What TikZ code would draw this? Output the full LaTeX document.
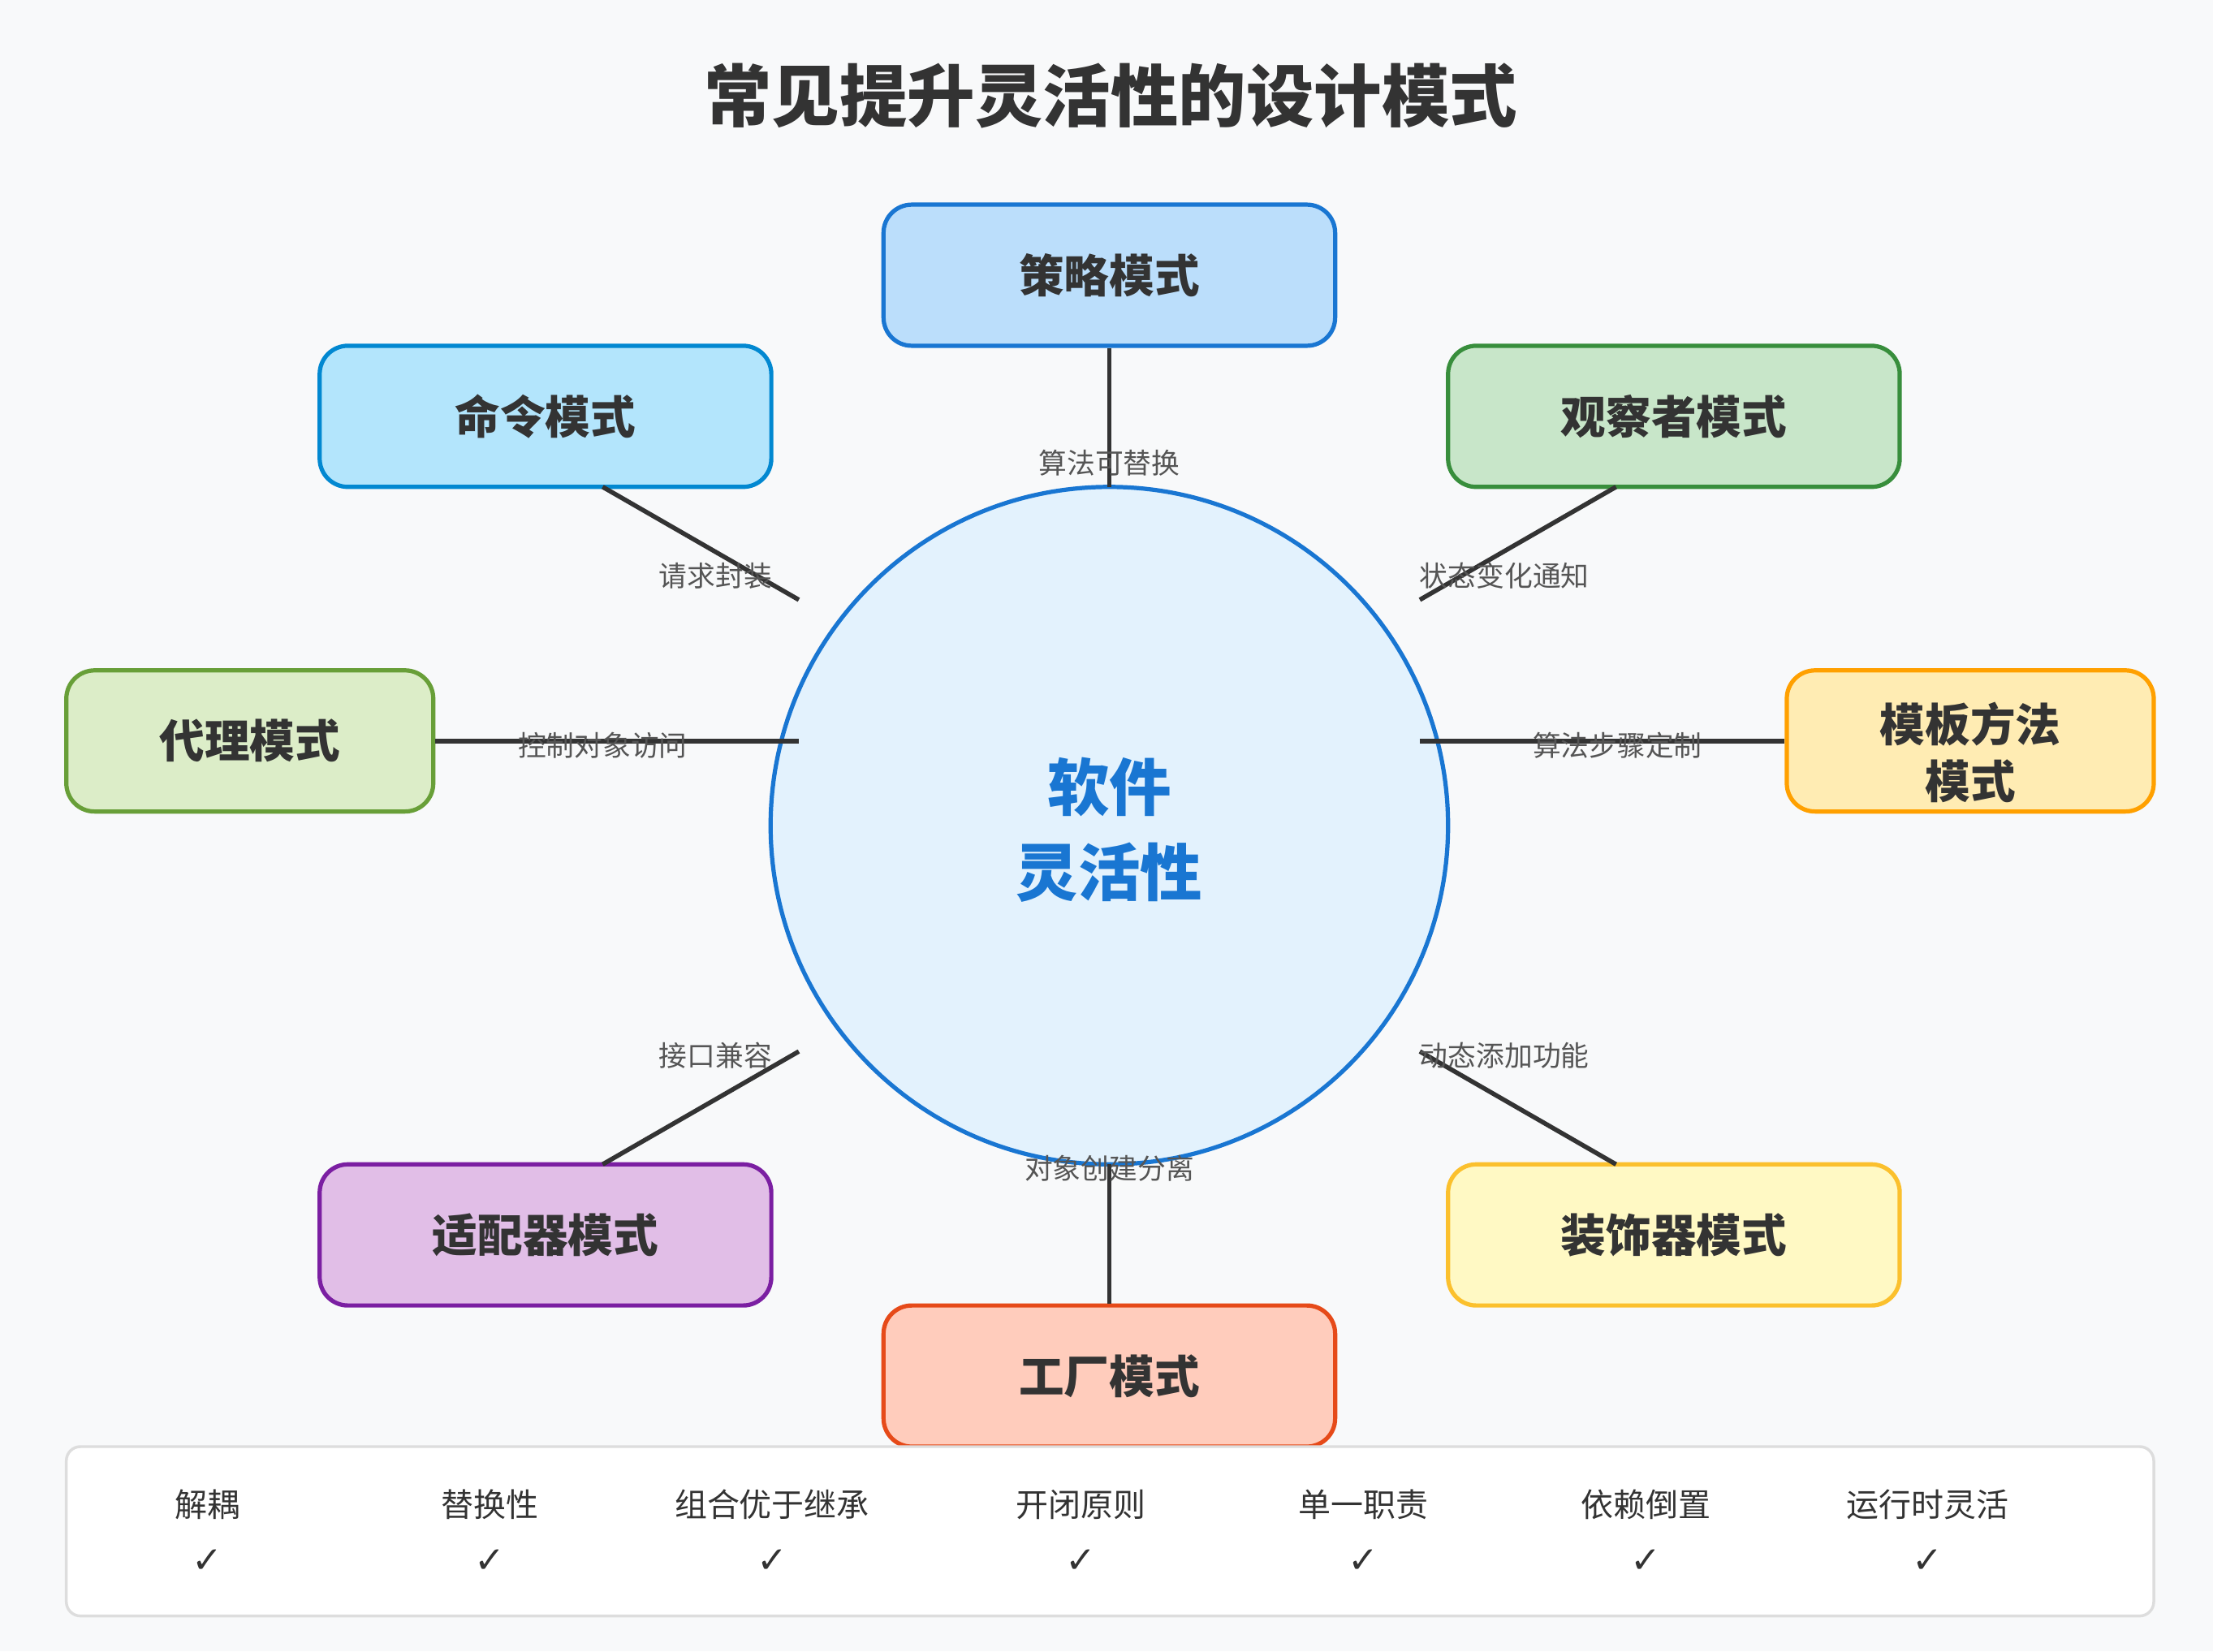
\documentclass[tikz,border=0pt]{standalone}
\usepackage{fontspec}
\setmainfont{Noto Sans CJK SC}
\newfontfamily\symfont{DejaVu Sans}
\definecolor{bgc}{HTML}{F8F9FA}
\definecolor{txt}{HTML}{333333}
\definecolor{lbl}{HTML}{555555}
\definecolor{cfill}{HTML}{E3F2FD}
\definecolor{cstroke}{HTML}{1976D2}
\definecolor{f1}{HTML}{BBDEFB}\definecolor{s1}{HTML}{1976D2}
\definecolor{f2}{HTML}{B3E5FC}\definecolor{s2}{HTML}{0288D1}
\definecolor{f3}{HTML}{C8E6C9}\definecolor{s3}{HTML}{388E3C}
\definecolor{f4}{HTML}{DCEDC8}\definecolor{s4}{HTML}{689F38}
\definecolor{f5}{HTML}{FFECB3}\definecolor{s5}{HTML}{FFA000}
\definecolor{f6}{HTML}{E1BEE7}\definecolor{s6}{HTML}{7B1FA2}
\definecolor{f7}{HTML}{FFF9C4}\definecolor{s7}{HTML}{FBC02D}
\definecolor{f8}{HTML}{FFCCBC}\definecolor{s8}{HTML}{E64A19}
\definecolor{panelb}{HTML}{DDDDDD}
\begin{document}
\begin{tikzpicture}[x=0.5pt,y=-0.5pt,
  pbox/.style={draw, line width=1.5pt, rounded corners=10pt, minimum width=160pt, minimum height=50pt, inner sep=0pt, font=\fontsize{16}{20}\selectfont\bfseries, text=txt, align=center},
  sbox/.style={pbox, minimum width=130pt},
  conn/.style={draw=txt, line width=1.6pt},
  lab/.style={font=\fontsize{10}{12}\selectfont, text=lbl, inner sep=0pt},
  item/.style={font=\fontsize{11.5}{14}\selectfont, text=txt, inner sep=0pt},
  chk/.style={font=\symfont\fontsize{13}{14}\selectfont, text=txt, inner sep=0pt}]
\fill[bgc] (0,0) rectangle (1568,1170);
\useasboundingbox (0,0) rectangle (1568,1170);
\node[font=\fontsize{24}{28}\selectfont\bfseries, text=txt] (title) at (787,68) {常见提升灵活性的设计模式};
% center circle
\node[circle, draw=cstroke, fill=cfill, line width=1.5pt, minimum size=240pt, inner sep=0pt] (core) at (786,585) {};
\node[font=\fontsize{22}{30}\selectfont\bfseries, text=cstroke, align=center] (coretext) at (786,588) {软件\\灵活性};
% boxes
\node[pbox, fill=f1, draw=s1] (strategy) at (786,195) {策略模式};
\node[pbox, fill=f2, draw=s2] (command) at (386.5,295) {命令模式};
\node[pbox, fill=f3, draw=s3] (observer) at (1186,295) {观察者模式};
\node[sbox, fill=f4, draw=s4] (proxy) at (177,525) {代理模式};
\node[sbox, fill=f5, draw=s5] (template) at (1396,525) {};
\node[font=\fontsize{16}{20}\selectfont\bfseries, text=txt, align=center, inner sep=0pt] (templatetext) at (1396,533) {模板方法\\模式};
\node[pbox, fill=f6, draw=s6] (adapter) at (386.5,875) {适配器模式};
\node[pbox, fill=f7, draw=s7] (decorator) at (1186,875) {装饰器模式};
\node[pbox, fill=f8, draw=s8] (factory) at (786,975) {工厂模式};
% connector end points
\coordinate (eS) at (786,345);
\coordinate (eC) at (566,425);
\coordinate (eO) at (1006,425);
\coordinate (eP) at (566,525);
\coordinate (eT) at (1006,525);
\coordinate (eA) at (566,745);
\coordinate (eD) at (1006,745);
\coordinate (eF) at (786,825);
\coordinate (bC) at (427,345);
\coordinate (bO) at (1145,345);
\coordinate (bA) at (427,825);
\coordinate (bD) at (1145,825);
\draw[conn] (strategy.south) -- (eS);
\draw[conn] (bC) -- (eC);
\draw[conn] (bO) -- (eO);
\draw[conn] (proxy.east) -- (eP);
\draw[conn] (eT) -- (template.west);
\draw[conn] (eA) -- (bA);
\draw[conn] (eD) -- (bD);
\draw[conn] (eF) -- (factory.north);
% labels
\node[lab] (l1) at (786,328) {算法可替换};
\node[lab] (l2) at (507,408) {请求封装};
\node[lab] (l3) at (1066,408) {状态变化通知};
\node[lab] (l4) at (427,528) {控制对象访问};
\node[lab] (l5) at (1146,528) {算法步骤定制};
\node[lab] (l6) at (507,748) {接口兼容};
\node[lab] (l7) at (1066,748) {动态添加功能};
\node[lab] (l8) at (786,828) {对象创建分离};
% bottom panel
\draw[draw=panelb, fill=white, line width=1pt, rounded corners=5pt] (47,1025) rectangle (1526,1145);
\foreach \x/\t [count=\i] in {147/解耦,347/替换性,547/组合优于继承,766/开闭原则,966/单一职责,1166/依赖倒置,1366/运行时灵活}{
  \node[item] (it\i) at (\x,1066) {\t};
  \node[chk] (ck\i) at (\x,1106) {✓};
}
\end{tikzpicture}
\end{document}
